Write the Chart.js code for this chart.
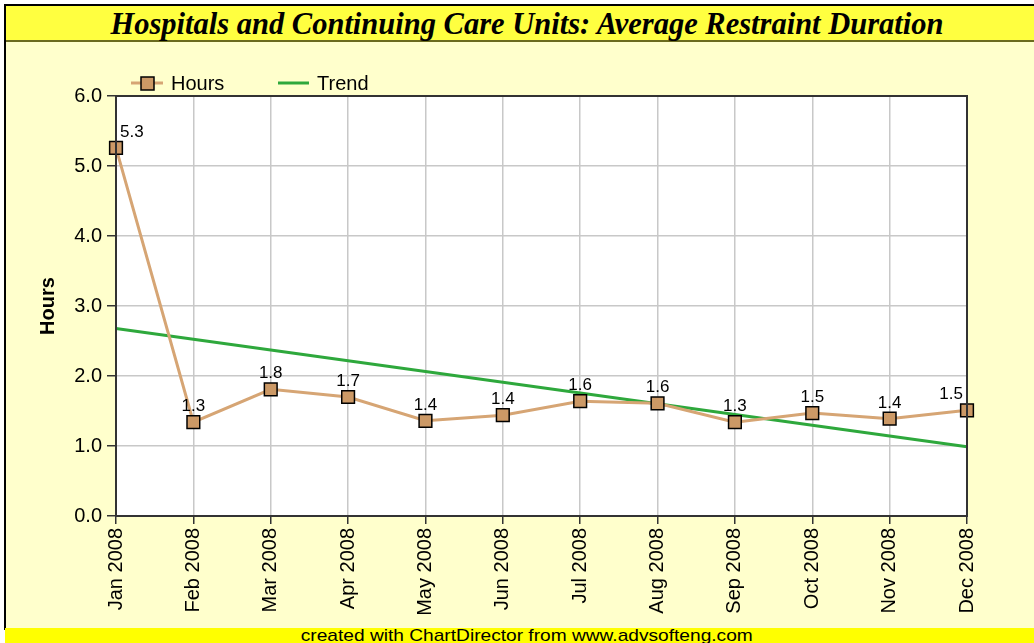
<!DOCTYPE html>
<html>
<head>
<meta charset="utf-8">
<script src="https://cdn.jsdelivr.net/npm/chart.js@4"></script>
<style>
  html, body { margin: 0; padding: 0; background: #fff; }
  #page { position: relative; width: 1034px; height: 643px; overflow: hidden; background: #fff; }
  #frame { position: absolute; left: 4px; top: 4px; width: 1040px; height: 624px;
           border-left: 2px solid #000; border-top: 2px solid #000; background: #FFFFCC; }
  #titlebar { position: absolute; left: 6px; top: 6px; width: 1040px; height: 34px;
              background: #FFFF40; border-bottom: 2px solid #6b6b1e; }
  #title { position: absolute; left: 0; top: 6px; width: 1054px; text-align: center;
           font: italic bold 32px/34px "Liberation Serif", serif; color: #000; white-space: nowrap; }
  #title span, #footertext span { display: inline-block; transform-origin: center; }
  #footer { position: absolute; left: 5px; top: 628px; width: 1040px; height: 20px; background: #FFFF00; }
  #footertext { position: absolute; left: 0; top: 626px; width: 1054px; text-align: center;
                font: 17px "Liberation Sans", Arial, sans-serif; color: #000; white-space: nowrap; }
  #chart { position: absolute; left: 0; top: 0; }
</style>
</head>
<body>
<div id="page">
  <div id="frame"></div>
  <div id="titlebar"></div>
  <div id="title"><span>Hospitals and Continuing Care Units: Average Restraint Duration</span></div>
  <div id="footer"></div>
  <div id="footertext"><span>created with ChartDirector from www.advsofteng.com</span></div>
  <canvas id="chart" width="1034" height="643"></canvas>
</div>
<script>
const months = ['Jan 2008', 'Feb 2008', 'Mar 2008', 'Apr 2008', 'May 2008', 'Jun 2008',
                'Jul 2008', 'Aug 2008', 'Sep 2008', 'Oct 2008', 'Nov 2008', 'Dec 2008']
const hours = [5.26, 1.34, 1.81, 1.70, 1.36, 1.44, 1.64, 1.61, 1.34, 1.47, 1.39, 1.51]
const trend = [2.68, null, null, null, null, null, null, null, null, null, null, 0.99]
const yTicks = [0, 1, 2, 3, 4, 5, 6]

const tan = '#D6A574'
const tanFill = '#CC9966'
const green = '#2EA83C'
const sans = '"Liberation Sans", Arial, sans-serif'

function fitText(id, width) {
  const span = document.querySelector('#' + id + ' span')
  const w = span.getBoundingClientRect().width
  span.style.transform = 'scaleX(' + (width / w) + ')'
}
fitText('title', 833)
fitText('footertext', 452)

// white plot background + dark frame around it
const plotFrame = {
  id: 'plotFrame',
  beforeDraw(chart) {
    const { ctx, chartArea: a } = chart
    ctx.save()
    ctx.fillStyle = '#fff'
    ctx.fillRect(a.left, a.top, a.right - a.left, a.bottom - a.top)
    ctx.restore()
  },
  afterDraw(chart) {
    const { ctx, chartArea: a } = chart
    ctx.save()
    ctx.strokeStyle = '#333'
    ctx.lineWidth = 2
    ctx.strokeRect(a.left, a.top, a.right - a.left, a.bottom - a.top)
    ctx.restore()
  }
}

// value labels above the Hours markers, kept inside the plot
const valueLabels = {
  id: 'valueLabels',
  afterDatasetsDraw(chart) {
    const { ctx, chartArea: a } = chart
    const meta = chart.getDatasetMeta(0)
    ctx.save()
    ctx.font = '17px ' + sans
    ctx.fillStyle = '#000'
    ctx.textAlign = 'center'
    ctx.textBaseline = 'alphabetic'
    meta.data.forEach((pt, i) => {
      const txt = hours[i].toFixed(1)
      const w = ctx.measureText(txt).width
      let x = Math.min(Math.max(pt.x, a.left + 4 + w / 2), a.right - 4 - w / 2)
      ctx.fillText(txt, x, pt.y - 11)
    })
    ctx.restore()
  }
}

// legend in ChartDirector style (line with marker)
const legendBox = {
  id: 'legendBox',
  afterDraw(chart) {
    const { ctx } = chart
    const y = 83
    ctx.save()
    ctx.lineWidth = 3
    ctx.strokeStyle = tan
    ctx.beginPath(); ctx.moveTo(131, y); ctx.lineTo(163, y); ctx.stroke()
    ctx.fillStyle = tanFill
    ctx.fillRect(141, y - 6, 13, 13)
    ctx.lineWidth = 1.5
    ctx.strokeStyle = '#000'
    ctx.strokeRect(141, y - 6, 13, 13)
    ctx.lineWidth = 3
    ctx.strokeStyle = green
    ctx.beginPath(); ctx.moveTo(278, y); ctx.lineTo(309, y); ctx.stroke()
    ctx.font = '20px ' + sans
    ctx.fillStyle = '#000'
    ctx.textBaseline = 'middle'
    ctx.fillText('Hours', 171, y + 1)
    ctx.fillText('Trend', 317, y + 1)
    ctx.restore()
  }
}

new Chart(document.getElementById('chart'), {
  type: 'line',
  data: {
    labels: months,
    datasets: [
      {
        label: 'Hours',
        data: hours,
        borderColor: tan,
        borderWidth: 3,
        pointStyle: 'rect',
        pointRadius: 9,
        pointBackgroundColor: tanFill,
        pointBorderColor: '#000',
        pointBorderWidth: 1.5,
        tension: 0
      },
      {
        label: 'Trend',
        data: trend,
        borderColor: green,
        borderWidth: 3,
        pointRadius: 0,
        spanGaps: true,
        tension: 0
      }
    ]
  },
  options: {
    responsive: false,
    animation: false,
    events: [],
    layout: { padding: { left: 0, top: 96, right: 67, bottom: 0 } },
    plugins: {
      legend: { display: false },
      title: { display: false },
      tooltip: { enabled: false }
    },
    scales: {
      x: {
        type: 'category',
        offset: false,
        afterFit(scale) { scale.height = 127 },
        grid: { color: '#c8c8c8', lineWidth: 1.5, tickColor: '#333', tickLength: 8, tickWidth: 1.5 },
        border: { color: '#333', width: 2 },
        ticks: {
          autoSkip: false, minRotation: 90, maxRotation: 90, padding: 4,
          color: '#000', font: { family: sans, size: 20 }
        }
      },
      y: {
        min: 0, max: 6,
        afterFit(scale) { scale.width = 116 },
        afterBuildTicks(scale) { scale.ticks = yTicks.map(v => ({ value: v })) },
        grid: { color: '#c8c8c8', lineWidth: 1.5, tickColor: '#333', tickLength: 9, tickWidth: 1.5 },
        border: { color: '#333', width: 2 },
        ticks: {
          padding: 5, color: '#000', font: { family: sans, size: 20 },
          callback: v => v.toFixed(1)
        },
        title: {
          display: true, text: 'Hours', color: '#000',
          font: { family: sans, size: 20, weight: 'bold' },
          padding: { top: 36 }
        }
      }
    }
  },
  plugins: [plotFrame, valueLabels, legendBox]
})
</script>
</body>
</html>
